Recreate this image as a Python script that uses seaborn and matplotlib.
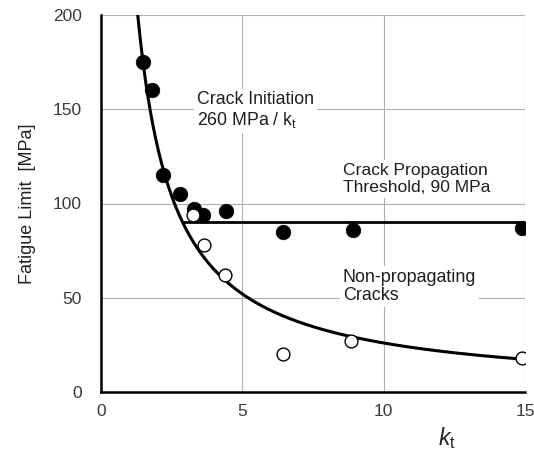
import numpy as np
import pandas as pd
import matplotlib
matplotlib.use("Agg")
import matplotlib.pyplot as plt
import seaborn as sns

# Data
filled_kt = [1.49, 1.80, 2.19, 2.79, 3.29, 3.61, 4.42, 6.44, 8.91, 14.9]
filled_sigma = [175, 160, 115, 105, 97, 94, 96, 85, 86, 87]
open_kt = [3.25, 3.64, 4.39, 6.44, 8.84, 14.9]
open_sigma = [94, 78, 62, 20, 27, 18]

initiation_const = 260.0   # MPa, crack initiation: 260 / kt
threshold = 90.0           # MPa, crack propagation threshold
kt_max = 15.0

sns.set_style("white")
plt.rcParams['font.family'] = ['Liberation Sans', 'DejaVu Sans']
plt.rcParams['mathtext.fontset'] = 'custom'
plt.rcParams['mathtext.rm'] = 'Liberation Sans'
plt.rcParams['mathtext.it'] = 'Liberation Sans:italic'

fig = plt.figure(figsize=(5.34, 4.5), dpi=100)
ax = fig.add_axes([101/534, 1-392/450, (525-101)/534, (392-15)/450])

# Curves
kt_curve = np.linspace(initiation_const/200.0, kt_max, 300)
curve = pd.DataFrame({"kt": kt_curve, "s": initiation_const / kt_curve})
sns.lineplot(data=curve, x="kt", y="s", ax=ax, color="black", lw=2.2, sort=False)
thr = pd.DataFrame({"kt": [initiation_const/threshold, kt_max], "s": [threshold, threshold]})
sns.lineplot(data=thr, x="kt", y="s", ax=ax, color="black", lw=2.0, sort=False)

# Points
sns.scatterplot(x=filled_kt, y=filled_sigma, ax=ax, color="black", s=110,
                edgecolor="black", linewidth=0.5, zorder=5)
sns.scatterplot(x=open_kt, y=open_sigma, ax=ax, color="white", s=85,
                edgecolor="black", linewidth=1.0, zorder=5)

ax.set_xlim(0, 15)
ax.set_ylim(0, 200)
ax.set_xticks([0, 5, 10, 15])
ax.set_yticks([0, 50, 100, 150, 200])
ax.set_xticks(np.arange(0, 16, 1), minor=True)
ax.set_yticks(np.arange(0, 201, 25), minor=True)
ax.grid(True, which="major", color="#b0b0b0", lw=0.8)
ax.set_axisbelow(True)

for s in ["top", "right"]:
    ax.spines[s].set_visible(False)
for s in ["left", "bottom"]:
    ax.spines[s].set_color("black")
    ax.spines[s].set_linewidth(1.8)

ax.tick_params(axis="both", which="both", direction="in", colors="black",
               labelcolor="#3a3a3a", labelsize=12.5)
ax.tick_params(axis="both", which="major", length=6, width=1.2)
ax.tick_params(axis="both", which="minor", length=4, width=1.2)
ax.tick_params(axis="y", which="major", pad=14)
ax.tick_params(axis="x", which="major", pad=9)

ax.set_ylabel("Fatigue Limit  [MPa]", fontsize=13, color="#222222", labelpad=12)
ax.set_xlabel("")
ax.text(12.25, -28, "$k_{\\mathregular{t}}$", fontsize=16.5, ha="center", va="baseline",
        color="#222222", clip_on=False)

bbox = dict(facecolor="white", edgecolor="none", pad=2)
ax.text(3.4, 159.5, "Crack Initiation\n260 MPa / k$_\\mathregular{t}$", fontsize=12.8,
        ha="left", va="top", color="#1e1e1e", bbox=bbox, linespacing=1.12)
ax.text(8.55, 121.5, "Crack Propagation\nThreshold, 90 MPa", fontsize=12.6,
        ha="left", va="top", color="#1e1e1e", bbox=bbox, linespacing=1.15)
ax.text(8.55, 65.5, "Non-propagating\nCracks", fontsize=12.9,
        ha="left", va="top", color="#1e1e1e", bbox=bbox, linespacing=1.12)

fig.savefig("out.png", dpi=100)
